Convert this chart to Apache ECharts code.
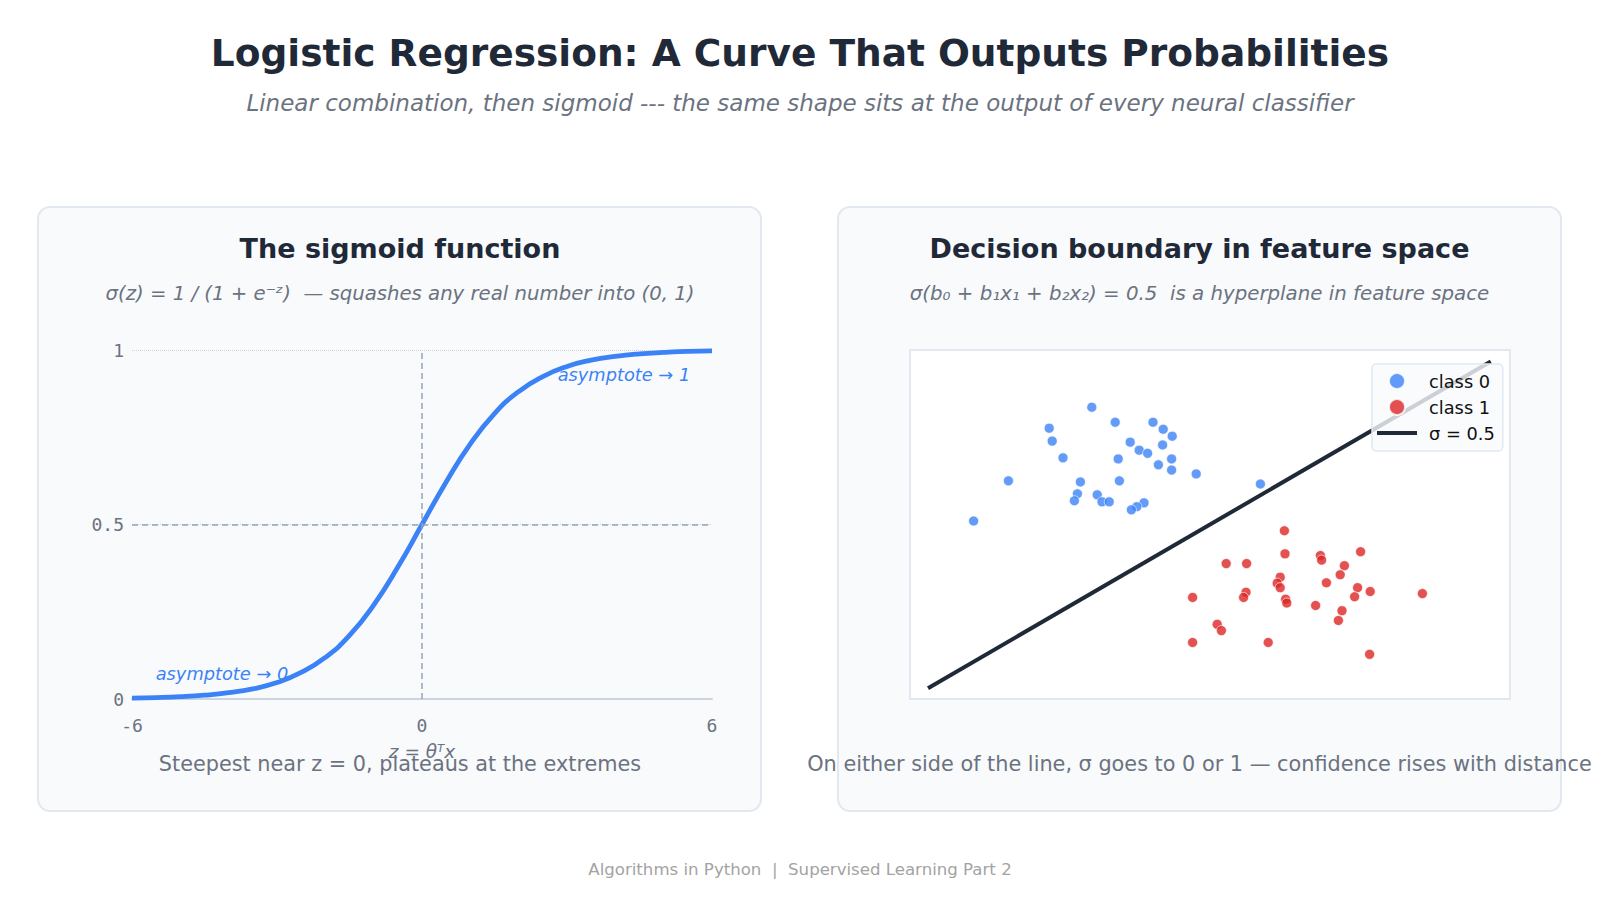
<!DOCTYPE html>
<html>
<head>
<meta charset="utf-8">
<title>Logistic Regression</title>
<script src="https://cdn.jsdelivr.net/npm/echarts@6/dist/echarts.min.js"></script>
<style>
  html, body { margin: 0; padding: 0; background: #ffffff; }
  #chart { width: 1600px; height: 900px; }
</style>
</head>
<body>
<div id="chart"></div>
<script>
// sigmoid curve
var zValues = [-6, -5.5, -5, -4.5, -4, -3.5, -3, -2.5, -2, -1.5, -1, -0.5, 0,
               0.5, 1, 1.5, 2, 2.5, 3, 3.5, 4, 4.5, 5, 5.5, 6];
var sigmaValues = [0.0025, 0.0041, 0.0067, 0.011, 0.018, 0.029, 0.047, 0.076, 0.119, 0.182, 0.269, 0.378, 0.5,
                   0.622, 0.731, 0.818, 0.881, 0.924, 0.953, 0.971, 0.982, 0.989, 0.993, 0.996, 0.9975];
var zTicks = { min: -6, max: 6, step: 6 };
var pTicks = { min: 0, max: 1, step: 0.5 };

var annotationText = ['asymptote \u2192 1', 'asymptote \u2192 0'];
var annotationZ = [5.56, -5.52];
var annotationP = [0.93, 0.072];
var annotationSide = ['left', 'right'];

// feature space points (arbitrary units, 0..10 on both axes)
var class0X = [3.03, 2.32, 2.37, 3.42, 4.05, 4.22, 4.37, 3.67, 4.21, 3.82, 3.96, 2.55, 3.47, 4.36, 4.14,
               4.36, 4.77, 1.64, 2.84, 3.49, 5.84, 2.79, 3.12, 2.74, 3.20, 3.32, 3.90, 3.78, 3.69, 1.06];
var class0Y = [8.36, 7.76, 7.39, 7.93, 7.93, 7.73, 7.53, 7.36, 7.28, 7.13, 7.04, 6.91, 6.88, 6.88, 6.71,
               6.56, 6.45, 6.25, 6.22, 6.25, 6.16, 5.88, 5.85, 5.68, 5.65, 5.65, 5.62, 5.51, 5.42, 5.10];
var class1X = [6.24, 6.25, 6.84, 6.86, 7.51, 5.27, 5.61, 7.24, 7.17, 6.17, 6.12, 6.17, 6.94, 7.46, 7.67,
               5.60, 5.56, 4.71, 7.41, 6.26, 6.28, 8.54, 6.76, 7.20, 7.14, 5.12, 5.19, 4.71, 5.97, 7.66];
var class1Y = [4.82, 4.16, 4.11, 3.98, 4.22, 3.88, 3.88, 3.82, 3.56, 3.49, 3.32, 3.19, 3.33, 3.19, 3.08,
               3.06, 2.91, 2.91, 2.93, 2.86, 2.75, 3.02, 2.68, 2.53, 2.25, 2.14, 1.96, 1.62, 1.62, 1.28];
var boundaryX = [0.30, 9.68];
var boundaryY = [0.31, 9.67];
var featureRange = { min: 0, max: 10 };

var seriesNames = ['class 0', 'class 1', '\u03c3 = 0.5'];

var FONT = '"DejaVu Sans", sans-serif';
var MONO = '"DejaVu Sans Mono", monospace';
var DARK = '#1f2937';
var MUTED = '#6b7280';
var BLUE = '#3b82f6';
var RED = '#dc2626';

function zip(xs, ys) {
  return xs.map(function (x, i) { return [x, ys[i]]; });
}

function label(text, x, y, font, color) {
  return {
    type: 'text',
    z: 10,
    style: { text: text, x: x, y: y, textAlign: 'center', textVerticalAlign: 'middle', font: font, fill: color }
  };
}

function panel(x) {
  return {
    type: 'rect',
    z: -10,
    shape: { x: x, y: 207, width: 723, height: 604, r: 12 },
    style: { fill: '#f8fafc', stroke: '#e2e8f0', lineWidth: 2 }
  };
}

var myChart = echarts.init(document.getElementById('chart'), null, { renderer: 'svg' });

myChart.setOption({
  animation: false,
  backgroundColor: '#ffffff',
  graphic: [
    panel(38),
    panel(838),
    label('Logistic Regression: A Curve That Outputs Probabilities', 800, 53, 'bold 37.5px ' + FONT, DARK),
    label('Linear combination, then sigmoid --- the same shape sits at the output of every neural classifier',
          800, 103, 'italic 23px ' + FONT, MUTED),
    label('The sigmoid function', 400, 248, 'bold 27px ' + FONT, DARK),
    label('\u03c3(z) = 1 / (1 + e\u207b\u1dbb)  \u2014 squashes any real number into (0, 1)',
          400, 293, 'italic 19.7px ' + FONT, MUTED),
    label('Decision boundary in feature space', 1199.5, 248, 'bold 27px ' + FONT, DARK),
    label('\u03c3(b\u2080 + b\u2081x\u2081 + b\u2082x\u2082) = 0.5  is a hyperplane in feature space',
          1199.5, 293, 'italic 19.8px ' + FONT, MUTED),
    label('Steepest near z = 0, plateaus at the extremes', 400, 764, '20.8px ' + FONT, MUTED),
    label('On either side of the line, \u03c3 goes to 0 or 1 \u2014 confidence rises with distance',
          1199.5, 764, '20.8px ' + FONT, MUTED),
    label('Algorithms in Python  |  Supervised Learning Part 2', 800, 869, '16.6px ' + FONT, '#a3a3a3')
  ],
  grid: [
    { left: 132, top: 350, width: 580, height: 349 },
    { left: 910, top: 350, width: 600, height: 349, show: true,
      backgroundColor: '#ffffff', borderColor: '#e2e8f0', borderWidth: 2 }
  ],
  xAxis: [
    {
      type: 'value', gridIndex: 0,
      min: zTicks.min, max: zTicks.max, interval: zTicks.step,
      axisLine: { show: true, lineStyle: { color: '#cbd5e1', width: 2 } },
      axisTick: { show: false },
      splitLine: { show: false },
      axisLabel: { fontFamily: MONO, fontSize: 18, color: MUTED, margin: 17 },
      name: 'z = \u03b8\u1d40x', nameLocation: 'middle', nameGap: 43,
      nameTextStyle: { fontFamily: FONT, fontStyle: 'italic', fontSize: 18.5, color: MUTED }
    },
    { type: 'value', gridIndex: 1, min: featureRange.min, max: featureRange.max, show: false }
  ],
  yAxis: [
    {
      type: 'value', gridIndex: 0,
      min: pTicks.min, max: pTicks.max, interval: pTicks.step,
      axisLine: { show: false },
      axisTick: { show: false },
      axisLabel: { fontFamily: MONO, fontSize: 18, color: MUTED, margin: 8 },
      splitLine: { show: true, lineStyle: { color: '#cbd5e1', type: 'dotted', width: 1 } }
    },
    { type: 'value', gridIndex: 1, min: featureRange.min, max: featureRange.max, show: false }
  ],
  legend: {
    data: [
      { name: seriesNames[0], icon: 'circle' },
      { name: seriesNames[1], icon: 'circle' },
      { name: seriesNames[2], icon: 'path://M0,0H40V4H0Z' }
    ],
    orient: 'vertical',
    left: 1372, top: 364,
    padding: [8, 8, 9, 5],
    itemWidth: 40, itemHeight: 16, itemGap: 8,
    symbolKeepAspect: true,
    backgroundColor: 'rgba(248,250,252,0.8)',
    borderColor: '#e2e8f0', borderWidth: 1.5, borderRadius: 4,
    textStyle: { fontFamily: FONT, fontSize: 17.8, lineHeight: 17, color: '#111111', padding: [0, 0, 0, 7] }
  },
  series: [
    {
      type: 'line',
      xAxisIndex: 0, yAxisIndex: 0,
      data: zip(zValues, sigmaValues),
      smooth: true,
      symbol: 'none',
      z: 3,
      lineStyle: { color: BLUE, width: 4.8 },
      markLine: {
        silent: true,
        symbol: 'none',
        label: { show: false },
        lineStyle: { color: '#94a3b8', type: [6, 4], width: 1.5 },
        data: [{ xAxis: 0 }, { yAxis: 0.5 }]
      }
    },
    {
      type: 'scatter',
      xAxisIndex: 0, yAxisIndex: 0,
      symbolSize: 1,
      itemStyle: { color: 'rgba(0,0,0,0)' },
      silent: true,
      z: 4,
      data: annotationText.map(function (t, i) {
        return {
          value: [annotationZ[i], annotationP[i]],
          label: {
            show: true, formatter: t, position: annotationSide[i], distance: 0, opacity: 1,
            color: BLUE, fontFamily: FONT, fontStyle: 'italic', fontSize: 17.8
          }
        };
      })
    },
    {
      name: seriesNames[0],
      type: 'scatter',
      xAxisIndex: 1, yAxisIndex: 1,
      data: zip(class0X, class0Y),
      symbolSize: 10,
      itemStyle: { color: BLUE, opacity: 0.8, borderColor: '#ffffff', borderWidth: 0.8 }
    },
    {
      name: seriesNames[1],
      type: 'scatter',
      xAxisIndex: 1, yAxisIndex: 1,
      data: zip(class1X, class1Y),
      symbolSize: 10,
      itemStyle: { color: RED, opacity: 0.8, borderColor: '#ffffff', borderWidth: 0.8 }
    },
    {
      name: seriesNames[2],
      type: 'line',
      xAxisIndex: 1, yAxisIndex: 1,
      data: zip(boundaryX, boundaryY),
      symbol: 'none',
      itemStyle: { color: DARK },
      lineStyle: { color: DARK, width: 4 }
    }
  ]
});
</script>
</body>
</html>
